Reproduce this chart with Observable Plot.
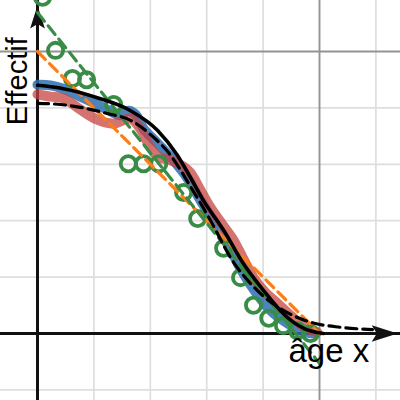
<!DOCTYPE html>
<html>
<head>
<meta charset="utf-8">
<script src="https://cdn.jsdelivr.net/npm/d3@7"></script>
<script src="https://cdn.jsdelivr.net/npm/@observablehq/plot@0.6"></script>
<style>
html,body{margin:0;padding:0;background:#fff;overflow:hidden;}
</style>
</head>
<body>
<div id="chart"></div>
<script>
// View window (grid units: minor step = 1, major step = 5)
const xMin = -0.656, xMax = 6.436, yMin = -1.188, yMax = 5.904;
const minorX = [1, 2, 3, 4, 6];
const majorX = [5];
const minorY = [-1, 1, 2, 3, 4];
const majorY = [5];

// Series 1 (blue points)
const blueX = [0, 0.23, 0.46, 0.76, 1.06, 1.29, 1.47, 1.61, 1.74, 1.88, 2.13, 2.41, 2.66, 2.89, 3.12, 3.37, 3.60, 3.87, 4.13, 4.40, 4.66, 4.88];
const blueY = [4.41, 4.40, 4.34, 4.20, 4.06, 3.94, 3.87, 3.95, 3.88, 3.63, 3.37, 3.07, 2.75, 2.36, 2.00, 1.60, 1.15, 0.73, 0.41, 0.20, 0.05, 0];

// Series 2 (red points)
const redX = [0, 0.23, 0.46, 0.76, 1.06, 1.35, 1.47, 1.65, 1.83, 1.95, 2.13, 2.36, 2.59, 2.71, 2.89, 3.07, 3.28, 3.46, 3.60, 3.83, 4.04, 4.26, 4.49, 4.72, 4.96];
const redY = [4.24, 4.20, 4.17, 3.97, 3.79, 3.72, 3.76, 3.81, 3.62, 3.39, 3.14, 3.07, 2.96, 2.85, 2.54, 2.23, 1.93, 1.68, 1.42, 0.99, 0.73, 0.53, 0.32, 0.12, 0.02];

// Series 3 (green open circles)
const greenX = [0.09, 0.32, 0.62, 0.87, 1.35, 1.61, 1.88, 2.15, 2.59, 2.84, 3.30, 3.60, 3.83, 4.10, 4.36, 4.61, 4.84];
const greenY = [5.96, 5.02, 4.52, 4.50, 4.06, 3.01, 3.01, 3.01, 2.50, 2.04, 1.51, 0.99, 0.50, 0.27, 0.14, 0.05, 0.0];

// Model curves
const solidX = [0, 0.46, 1.06, 1.65, 2.13, 2.48, 2.71, 2.94, 3.30, 3.65, 4.01, 4.36, 4.72, 5.07];
const solidY = [4.40, 4.34, 4.18, 3.95, 3.60, 3.16, 2.77, 2.36, 1.83, 1.24, 0.76, 0.35, 0.09, 0];
const dashX = [0, 0.41, 0.76, 1.24, 1.65, 2.00, 2.36, 2.71, 3.07, 3.42, 3.90, 4.36, 4.84, 5.37, 5.94];
const dashY = [4.08, 4.06, 4.01, 3.90, 3.78, 3.53, 3.16, 2.61, 2.00, 1.35, 0.76, 0.41, 0.20, 0.11, 0.07];
const orangeX = [0, 5];
const orangeY = [5, 0];
const greenLineX = [0, 5];
const greenLineY = [5.69, -0.53];

const zip = (xs, ys) => xs.map((x, i) => ({x, y: ys[i]}));

const stealth = {
  draw(ctx, size) {
    const r = Math.sqrt(size / Math.PI);
    const L = r, w = 0.32 * r, n = 0.2 * r;
    ctx.moveTo(0, 0);
    ctx.lineTo(w, L);
    ctx.lineTo(0, L - n);
    ctx.lineTo(-w, L);
    ctx.closePath();
  }
};

const font = "'Liberation Sans', Arial, sans-serif";

const chart = Plot.plot({
  width: 400,
  height: 400,
  marginTop: 0, marginRight: 0, marginBottom: 0, marginLeft: 0,
  x: {domain: [xMin, xMax], axis: null},
  y: {domain: [yMin, yMax], axis: null},
  style: {background: "#fff", fontFamily: font},
  marks: [
    Plot.ruleX(minorX, {stroke: "#dedede", strokeWidth: 1.7}),
    Plot.ruleY(minorY, {stroke: "#dedede", strokeWidth: 1.7}),
    Plot.ruleX(majorX, {stroke: "#939393", strokeWidth: 1.9}),
    Plot.ruleY(majorY, {stroke: "#939393", strokeWidth: 1.9}),
    Plot.ruleX([0], {stroke: "#111", strokeWidth: 3}),
    Plot.ruleY([0], {stroke: "#111", strokeWidth: 3}),
    Plot.dot([0], {x: 0, y: yMax - 0.09, symbol: stealth, r: 23, fill: "#111", stroke: "none"}),
    Plot.dot([0], {x: xMax - 0.05, y: 0, symbol: stealth, r: 26, rotate: 90, fill: "#111", stroke: "none"}),
    Plot.line(zip(blueX, blueY), {x: "x", y: "y", stroke: "#2d70b3", strokeWidth: 10, strokeOpacity: 0.85, curve: "catmull-rom", strokeLinecap: "round"}),
    Plot.line(zip(redX, redY), {x: "x", y: "y", stroke: "#c74440", strokeWidth: 10, strokeOpacity: 0.75, curve: "catmull-rom", strokeLinecap: "round"}),
    Plot.dot(zip(greenX, greenY), {x: "x", y: "y", r: 7.6, stroke: "#388c46", strokeWidth: 3.8, fill: "none"}),
    Plot.line(zip(orangeX, orangeY), {x: "x", y: "y", stroke: "#fa7e19", strokeWidth: 3.2, strokeDasharray: "11,6"}),
    Plot.line(zip(greenLineX, greenLineY), {x: "x", y: "y", stroke: "#388c46", strokeWidth: 3.2, strokeDasharray: "11,6"}),
    Plot.line(zip(dashX, dashY), {x: "x", y: "y", stroke: "#000", strokeWidth: 3.2, strokeDasharray: "11,6", curve: "monotone-x"}),
    Plot.line(zip(solidX, solidY), {x: "x", y: "y", stroke: "#000", strokeWidth: 3.6, curve: "monotone-x"}),
    Plot.text(["Effectif"], {x: -0.195, y: 3.69, text: d => d, rotate: -90, textAnchor: "start", lineAnchor: "bottom", fontSize: 29, fill: "#000", fontFamily: font}),
    Plot.text(["âge x"], {x: 4.45, y: -0.51, text: d => d, textAnchor: "start", lineAnchor: "bottom", fontSize: 33, fill: "#000", fontFamily: font})
  ]
});
document.getElementById("chart").appendChild(chart);
</script>
</body>
</html>
